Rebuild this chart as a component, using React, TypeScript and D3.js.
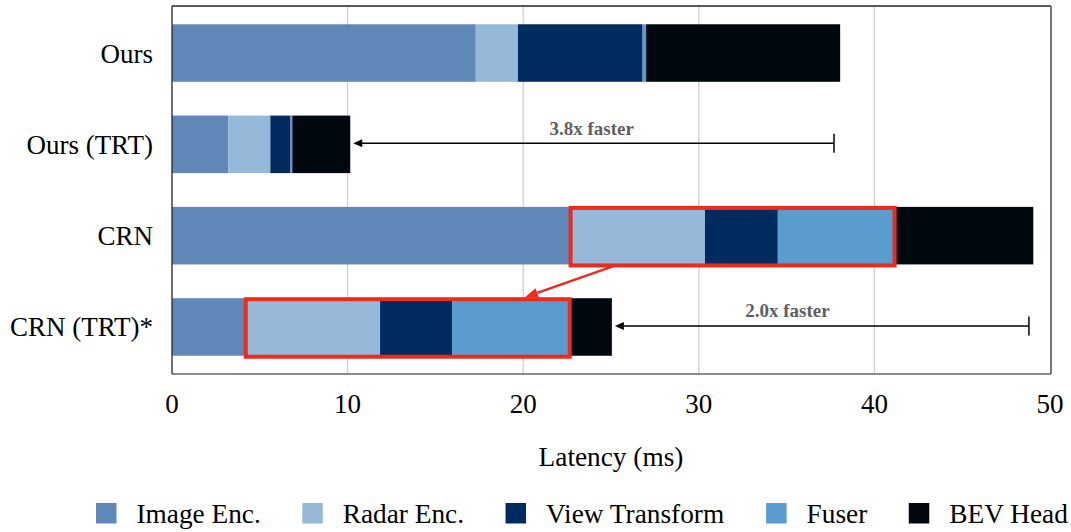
import React, { useMemo } from "react";
import * as d3 from "d3";

// Per-stage latency (ms) for each method
const methods = ["Ours", "Ours (TRT)", "CRN", "CRN (TRT)*"];
const stages = ["Image Enc.", "Radar Enc.", "View Transform", "Fuser", "BEV Head"];
const imageEnc = [17.3, 3.2, 22.7, 4.2];
const radarEnc = [2.4, 2.4, 7.65, 7.65];
const viewTransform = [7.1, 1.15, 4.15, 4.1];
const fuser = [0.2, 0.1, 6.65, 6.7];
const bevHead = [11.05, 3.3, 7.9, 2.4];
const stageColors = ["#5f87b8", "#96b9da", "#002b60", "#5a9bd0", "#010810"];
const xTicks = [0, 10, 20, 30, 40, 50];

// Speed-up callouts: arrow from the fast bar's end back to the reference latency
const speedupRows = ["Ours (TRT)", "CRN (TRT)*"];
const speedupLabels = ["3.8x faster", "2.0x faster"];
const speedupRefEnd = [37.7, 48.8];
const speedupLabelAt = [23.9, 35.05];

// Highlighted stages (Radar Enc. .. Fuser) and the zoom arrow between them
const highlightFrom = "CRN";
const highlightTo = "CRN (TRT)*";
const zoomArrowX = [25.1, 20.1];

const W = 1071;
const H = 532;
const margin = { left: 172, right: 21, top: 6, bottom: 158 };
const FONT = "'Liberation Serif', 'Times New Roman', serif";
const LABEL_SIZE = 27.3;

function measure(text: string, font: string): number {
  const c = document.createElement("canvas");
  const ctx = c.getContext("2d");
  if (!ctx) return text.length * 12;
  ctx.font = font;
  return ctx.measureText(text).width;
}

export default function App() {
  const x = d3.scaleLinear().domain([0, 50]).range([margin.left, W - margin.right]);
  const y = d3
    .scaleBand<string>()
    .domain(methods)
    .range([margin.top, H - margin.bottom])
    .paddingInner(0.37)
    .paddingOuter(0.2);

  const table = methods.map((m, i) => ({
    method: m,
    "Image Enc.": imageEnc[i],
    "Radar Enc.": radarEnc[i],
    "View Transform": viewTransform[i],
    Fuser: fuser[i],
    "BEV Head": bevHead[i],
  }));
  const series = d3.stack<any>().keys(stages)(table);
  const totals = methods.map((_, i) => imageEnc[i] + radarEnc[i] + viewTransform[i] + fuser[i] + bevHead[i]);

  const bw = y.bandwidth();
  const plotTop = margin.top;
  const plotBottom = H - margin.bottom;
  const x0 = x(0);
  const x1 = x(50);

  const legendFont = `${LABEL_SIZE}px ${FONT}`;
  const legendItems = useMemo(() => {
    let cx = 96;
    return stages.map((s, i) => {
      const item = { label: s, color: stageColors[i], x: cx };
      cx += 20 + 20 + measure(s, legendFont) + 42;
      return item;
    });
  }, []);

  const hiBox = (m: string) => {
    const i = methods.indexOf(m);
    const a = imageEnc[i];
    const b = imageEnc[i] + radarEnc[i] + viewTransform[i] + fuser[i];
    return { x: x(a), w: x(b) - x(a), y: (y(m) as number) + 1, h: bw };
  };
  const boxA = hiBox(highlightFrom);
  const boxB = hiBox(highlightTo);

  // zoom arrow geometry
  const zx1 = x(zoomArrowX[0]);
  const zy1 = boxA.y + boxA.h + 1;
  const zx2 = x(zoomArrowX[1]);
  const zy2 = boxB.y - 2;
  const ang = Math.atan2(zy2 - zy1, zx2 - zx1);
  const headLen = 13;
  const headW = 5;
  const hb = [zx2 - headLen * Math.cos(ang), zy2 - headLen * Math.sin(ang)];
  const headPts = [
    [zx2, zy2],
    [hb[0] + headW * Math.sin(ang), hb[1] - headW * Math.cos(ang)],
    [hb[0] - headW * Math.sin(ang), hb[1] + headW * Math.cos(ang)],
  ];

  return (
    <svg
      width={W}
      height={H}
      style={{ position: "absolute", left: 0, top: 0, background: "#fff" }}
      fontFamily={FONT}
    >
      {/* vertical grid */}
      {xTicks.slice(1, -1).map((t) => (
        <line key={t} x1={x(t)} x2={x(t)} y1={plotTop} y2={plotBottom} stroke="#cfcfcf" strokeWidth={1.3} />
      ))}

      {/* stacked bars */}
      {series.map((s, si) => (
        <g key={stages[si]} fill={stageColors[si]}>
          {s.map((d, di) => (
            <rect
              key={di}
              x={x(d[0])}
              y={y(methods[di])}
              width={Math.max(0, x(d[1]) - x(d[0]))}
              height={bw}
            />
          ))}
        </g>
      ))}

      {/* frame */}
      <line x1={x0} x2={x1 + 1} y1={plotTop} y2={plotTop} stroke="#222" strokeWidth={1.3} />
      <line x1={x1 + 1} x2={x1 + 1} y1={plotTop} y2={plotBottom} stroke="#777" strokeWidth={2} />
      <line x1={x0} x2={x1 + 1} y1={plotBottom} y2={plotBottom} stroke="#666" strokeWidth={1.6} />
      <line x1={x0} x2={x0} y1={plotTop} y2={plotBottom} stroke="#333" strokeWidth={1.4} />

      {/* highlight boxes */}
      {[boxA, boxB].map((b, i) => (
        <rect key={i} x={b.x} y={b.y} width={b.w} height={b.h} fill="none" stroke="#ee2a1a" strokeWidth={4} />
      ))}
      <line x1={zx1} y1={zy1} x2={hb[0]} y2={hb[1]} stroke="#ee2a1a" strokeWidth={2.5} />
      <polygon points={headPts.map((p) => p.join(",")).join(" ")} fill="#ee2a1a" />

      {/* speed-up callouts */}
      {speedupRows.map((r, i) => {
        const mi = methods.indexOf(r);
        const cy = (y(r) as number) + bw / 2 - 1;
        const tip = x(totals[mi]) + 3;
        const end = x(speedupRefEnd[i]);
        return (
          <g key={r}>
            <line x1={tip + 8} x2={end} y1={cy} y2={cy} stroke="#000" strokeWidth={1.5} />
            <polygon points={`${tip},${cy} ${tip + 9},${cy - 4} ${tip + 9},${cy + 4}`} fill="#000" />
            <line x1={end} x2={end} y1={cy - 9.5} y2={cy + 9.5} stroke="#000" strokeWidth={1.5} />
            <text
              x={x(speedupLabelAt[i])}
              y={cy - 8.5}
              textAnchor="middle"
              fontSize={19}
              fontWeight="bold"
              fill="#5f5f5f"
            >
              {speedupLabels[i]}
            </text>
          </g>
        );
      })}

      {/* y labels */}
      {methods.map((m) => (
        <text key={m} x={153} y={(y(m) as number) + bw / 2 + 9.5} textAnchor="end" fontSize={27} fill="#000">
          {m}
        </text>
      ))}

      {/* x tick labels */}
      {xTicks.map((t) => (
        <text key={t} x={x(t)} y={413} textAnchor="middle" fontSize={27} fill="#000">
          {t}
        </text>
      ))}
      <text x={(x0 + x1) / 2} y={466} textAnchor="middle" fontSize={LABEL_SIZE} fill="#000">
        Latency (ms)
      </text>

      {/* legend */}
      {legendItems.map((it) => (
        <g key={it.label}>
          <rect x={it.x} y={503} width={20.5} height={20.5} fill={it.color} />
          <text x={it.x + 40.5} y={523} fontSize={LABEL_SIZE} fill="#000">
            {it.label}
          </text>
        </g>
      ))}
    </svg>
  );
}
